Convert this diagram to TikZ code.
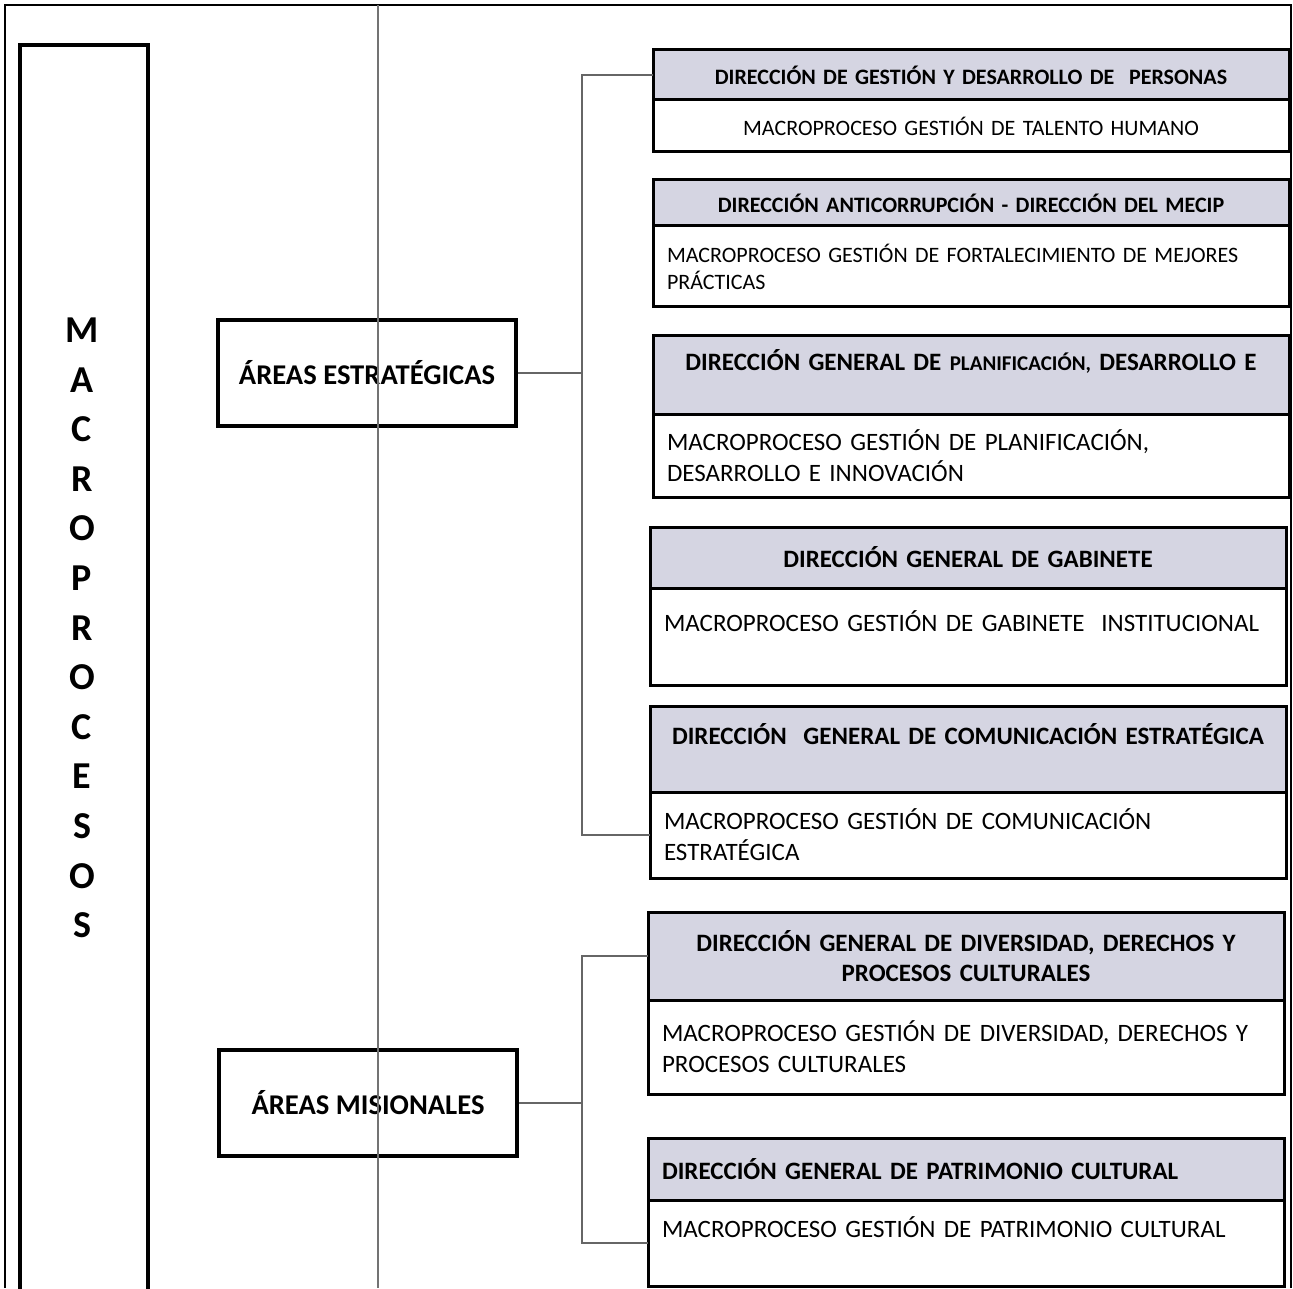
\documentclass[tikz,border=0pt]{standalone}
\usepackage{fontspec}
\setmainfont{Carlito}
\usetikzlibrary{positioning}
\definecolor{hdrgray}{RGB}{213,213,226}
\tikzset
{
    frame/.style  = {draw=black, line width=1.2pt},
    macbox/.style = {rectangle, draw=black, line width=2pt, anchor=north west, minimum width=64pt, minimum height=640pt},
    area/.style   = {rectangle, draw=black, line width=2pt, minimum width=149pt, minimum height=53pt, font=\bfseries\fontsize{14.3}{16}\selectfont},
    hdr/.style    = {rectangle, draw=black, line width=1.5pt, fill=hdrgray, outer sep=0pt, anchor=north west, minimum width=318pt, text width=304pt, inner xsep=7pt, align=center, font=\bfseries\fontsize{12.5}{15}\selectfont},
    body/.style   = {rectangle, draw=black, line width=1.5pt, fill=white, outer sep=0pt, minimum width=318pt, text width=304pt, inner xsep=7pt, align=left, font=\fontsize{12.5}{15.5}\selectfont},
    hdrsmall/.style  = {font=\bfseries\fontsize{11}{15}\selectfont},
    bodysmall/.style = {font=\fontsize{11}{13.5}\selectfont},
    link/.style   = {draw=black!60, line width=0.7pt},
}

\begin{document}
\begin{tikzpicture}[x=0.5pt, y=-0.5pt]
   \useasboundingbox (0,0) rectangle (1293,1288);
   \draw[frame] (5,1288) -- (5,5) -- (1291,5) -- (1291,1288);

   \node (mac)    [macbox] at (18,43) {};
   \node (mactxt) [font=\bfseries\fontsize{19}{24.8}\selectfont, align=center] at (82,628)
      {M\\A\\C\\R\\O\\P\\R\\O\\C\\E\\S\\O\\S};

   \node (ae) [area] at (367,373)  {ÁREAS ESTRATÉGICAS};
   \node (am) [area] at (368,1103) {ÁREAS MISIONALES};
   \coordinate (je) at (582,373);
   \coordinate (jm) at (582,1103);

   % areas estrategicas
   \node (h1) [hdr, hdrsmall, minimum height=25pt] at (653,50) {DIRECCIÓN DE GESTIÓN Y DESARROLLO DE~~PERSONAS};
   \node (b1) [body, bodysmall, minimum height=26pt, align=center, below=0pt of h1] {MACROPROCESO GESTIÓN DE TALENTO HUMANO};
   \node (h2) [hdr, hdrsmall, minimum height=23pt] at (653,180) {DIRECCIÓN ANTICORRUPCIÓN - DIRECCIÓN DEL MECIP};
   \node (b2) [body, bodysmall, minimum height=40.5pt, below=0pt of h2] {MACROPROCESO GESTIÓN DE FORTALECIMIENTO DE MEJORES\\PRÁCTICAS};
   \node (h3) [hdr, minimum height=39pt] at (653,336) {DIRECCIÓN GENERAL DE {\fontsize{10.5}{15}\selectfont PLANIFICACIÓN,} DESARROLLO E\\~};
   \node (b3) [body, minimum height=41.5pt, below=0pt of h3] {MACROPROCESO GESTIÓN DE PLANIFICACIÓN,\\DESARROLLO E INNOVACIÓN};
   \node (h4) [hdr, minimum height=30.5pt] at (650,527) {DIRECCIÓN GENERAL DE GABINETE};
   \node (b4) [body, minimum height=48.5pt, below=0pt of h4] {MACROPROCESO GESTIÓN DE GABINETE~~INSTITUCIONAL\\~};
   \node (h5) [hdr, minimum height=43pt] at (650,706) {DIRECCIÓN~~GENERAL DE COMUNICACIÓN ESTRATÉGICA\\~};
   \node (b5) [body, minimum height=43pt, below=0pt of h5] {MACROPROCESO GESTIÓN DE COMUNICACIÓN\\ESTRATÉGICA};

   % areas misionales
   \node (h6) [hdr, minimum height=44pt] at (648,912) {DIRECCIÓN GENERAL DE DIVERSIDAD, DERECHOS Y\\PROCESOS CULTURALES};
   \node (b6) [body, minimum height=47pt, below=0pt of h6] {MACROPROCESO GESTIÓN DE DIVERSIDAD, DERECHOS Y\\PROCESOS CULTURALES};
   \node (h7) [hdr, minimum height=31pt, align=left] at (648,1138) {DIRECCIÓN GENERAL DE PATRIMONIO CULTURAL};
   \node (b7) [body, minimum height=43pt, below=0pt of h7] {MACROPROCESO GESTIÓN DE PATRIMONIO CULTURAL\\~};

   \draw[link] (ae.east) -- (je);
   \draw[link] (h1.west) -| (je) |- (b5.west);
   \draw[link] (am.east) -- (jm);
   \draw[link] (h6.west) -| (jm) |- (b7.west);

   \draw[black!55, line width=0.6pt] (378,5) -- (378,1288);
\end{tikzpicture}
\end{document}
